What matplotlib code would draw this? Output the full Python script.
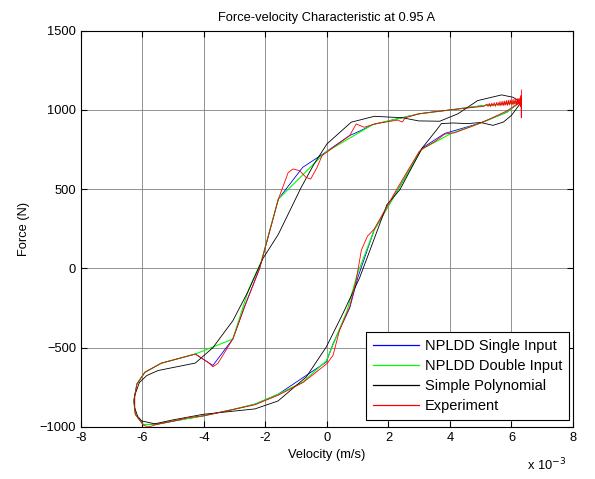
import numpy as np
import matplotlib
matplotlib.use("Agg")
import matplotlib.pyplot as plt

# velocity in units of 1e-3 m/s, force in N (loops start at the right tip)
single_v = [6.25, 5.0, 4.04, 3.0, 1.49, 1.1, 0.74, -0.05, -0.21, -0.79, -1.58, -2.19, -2.68, -3.06,
            -3.71, -4.28, -5.39, -5.92, -6.18, -6.28, -6.23, -5.97, -5.5, -4.86, -4.02, -3.06, -2.34,
            -1.59, -0.02, 0.2, 0.74, 1.0, 1.53, 2.26, 3.09, 3.83, 5.0, 5.85, 6.25]
single_f = [1045, 1025, 1000, 975, 907, 869, 838, 732, 711, 637, 437, 0, -242, -445,
            -612, -540, -598, -655, -729, -835, -920, -985, -982, -958, -930, -890, -856,
            -794, -590, -474, -250, -60, 240, 480, 758, 851, 917, 985, 1045]

double_v = [6.25, 5.0, 4.04, 3.0, 1.49, -0.05, -1.58, -2.14, -2.55, -3.06, -4.28, -5.39, -5.92,
            -6.18, -6.28, -6.23, -5.97, -5.5, -4.86, -4.02, -3.06, -2.34, -1.59, -0.78, -0.02,
            0.65, 0.98, 1.53, 2.26, 3.07, 4.04, 5.0, 5.85, 6.25]
double_f = [1045, 1025, 1000, 975, 907, 732, 437, 42, -135, -445, -540, -598, -655,
            -729, -835, -920, -985, -982, -958, -930, -890, -856, -794, -716, -583,
            -270, -40, 240, 480, 750, 851, 917, 985, 1045]

poly_v = [6.32, 6.05, 5.68, 4.9, 4.26, 3.67, 2.98, 2.45, 1.54, 0.79, 0.0, -0.42, -0.84, -1.58,
          -2.08, -2.57, -3.06, -3.71, -4.28, -5.49, -5.86, -6.1, -6.25, -6.25, -6.15, -6.02,
          -5.6, -5.0, -4.02, -2.34, -1.59, -0.67, -0.02, 0.52, 1.06, 1.39, 1.95, 2.37, 3.1,
          3.56, 3.72, 4.1, 4.57, 5.0, 5.4, 5.74, 6.0, 6.32]
poly_f = [1048, 1079, 1094, 1058, 975, 928, 930, 950, 959, 922, 785, 658, 510, 215,
          63, -147, -330, -500, -597, -644, -676, -720, -800, -880, -935, -962,
          -980, -955, -920, -886, -836, -684, -495, -284, -60, 110, 402, 496, 760,
          872, 913, 917, 913, 920, 902, 923, 965, 1048]

exp_v = [6.33, 6.32, 6.31, 6.30, 6.28, 6.26, 6.24, 6.22, 6.20, 6.17, 6.14, 6.11, 6.08, 6.05,
         6.02, 5.99, 5.96, 5.93, 5.90, 5.87, 5.84, 5.81, 5.78, 5.75, 5.72, 5.69, 5.66, 5.63,
         5.60, 5.56, 5.52, 5.48, 5.44, 5.40, 5.36, 5.32, 5.28, 5.24, 5.20, 5.1, 5.0, 4.6,
         4.04, 3.5, 3.0, 2.55, 2.45, 2.3, 1.6, 1.21, 0.95,
         0.74, -0.16, -0.32, -0.53, -0.68, -0.89, -1.1, -1.26, -1.58, -2.19, -2.68, -3.06,
         -3.55, -3.71, -3.85, -4.28, -5.39, -5.92, -6.18, -6.28, -6.23, -5.97, -5.8, -5.5,
         -4.86, -4.5, -4.02, -3.06, -2.34, -1.59, -0.78, 0.0, 0.2, 0.41, 0.74, 0.95, 1.12,
         1.32, 1.53, 2.26, 3.0, 3.14, 3.51, 3.83, 4.15, 4.68, 5.21, 5.84, 6.3, 6.33]
exp_f = [1125, 950, 1090, 1020, 1075, 1030, 1072, 1035, 1070, 1032, 1068, 1036, 1066, 1030,
         1064, 1034, 1062, 1030, 1060, 1028, 1058, 1030, 1056, 1026, 1054, 1028, 1052, 1024,
         1050, 1026, 1047, 1022, 1045, 1024, 1042, 1020, 1040, 1021, 1036, 1022, 1020, 1012,
         1000, 988, 975, 950, 923, 935, 913, 890, 911,
         838, 711, 637, 563, 574, 616, 627, 605, 437, 0, -242, -445,
         -600, -620, -595, -540, -598, -655, -729, -835, -920, -988, -1000, -982,
         -958, -940, -930, -890, -860, -800, -720, -600, -547, -389, -242, -74, 116,
         204, 246, 496, 738, 758, 800, 847, 855, 893, 935, 992, 1050, 1060]


def main():
    plt.rcParams['font.family'] = ['Liberation Sans', 'DejaVu Sans']
    fig = plt.figure(figsize=(5.95, 4.79), dpi=100)
    ax = fig.add_axes([0.136, 0.1086, 0.827, 0.8277])

    s = 1e-3
    ax.plot(np.array(single_v) * s, single_f, color='#0000FF', lw=0.6, label="NPLDD Single Input")
    ax.plot(np.array(double_v) * s, double_f, color='#00FF00', lw=0.8, label="NPLDD Double Input")
    ax.plot(np.array(poly_v) * s, poly_f, color='black', lw=0.6, label="Simple Polynomial")
    ax.plot(np.array(exp_v) * s, exp_f, color='red', lw=0.6, label="Experiment")

    ax.set_xlim(-8e-3, 8e-3)
    ax.set_ylim(-1000, 1500)
    ax.set_xticks(np.arange(-8, 9, 2) * s)
    ax.set_xticklabels([str(v) for v in range(-8, 9, 2)])
    ax.set_yticks(range(-1000, 1501, 500))
    ax.grid(True, color='#808080', lw=0.6)
    ax.tick_params(direction='in', top=True, right=True, length=4, labelsize=9.3, colors='black')
    for sp in ax.spines.values():
        sp.set_linewidth(0.8)

    ax.set_title("Force-velocity Characteristic at 0.95 A", fontsize=9.3, pad=7)
    ax.set_xlabel("Velocity (m/s)", fontsize=9.3, labelpad=4)
    ax.set_ylabel("Force (N)", fontsize=9.3, labelpad=7)
    fig.text(0.885, 0.018, r"x 10$^{-3}$", fontsize=9.3)

    leg = ax.legend(loc='lower right', bbox_to_anchor=(0.992, 0.018), borderaxespad=0,
                    fontsize=10.5, fancybox=False, framealpha=1, edgecolor='black',
                    handlelength=3.2, handletextpad=0.4, labelspacing=0.42, borderpad=0.45)
    leg.get_frame().set_linewidth(0.8)
    for line in leg.get_lines():
        line.set_linewidth(0.9)

    fig.savefig("out.png", dpi=100)


if __name__ == "__main__":
    main()
